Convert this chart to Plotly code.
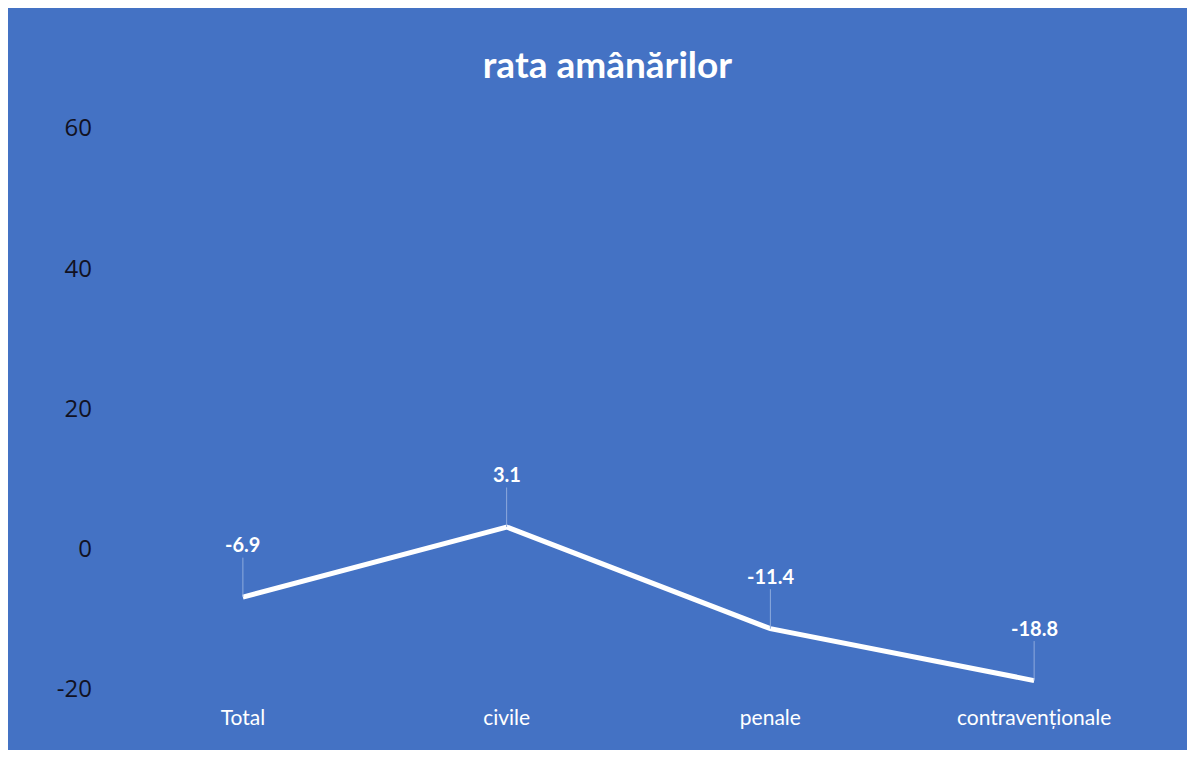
import plotly.graph_objects as go

categories = ["Total", "civile", "penale", "contravenționale"]
values = [-6.9, 3.1, -11.4, -18.8]
y_ticks = [-20, 0, 20, 40, 60]
y_tick_text = ["-20", "0", "20", "40", "60"]

BLUE = "#4472C4"
FONT = "Lato, Open Sans, sans-serif"

fig = go.Figure()
fig.add_trace(go.Scatter(
    x=categories, y=values,
    mode="lines",
    line=dict(color="white", width=5),
    hoverinfo="skip",
    showlegend=False))

# data labels with thin leader lines
for cat, val in zip(categories, values):
    fig.add_annotation(
        x=cat, y=val, text=f"<b>{val}</b>",
        showarrow=True, arrowhead=0, arrowwidth=1, arrowcolor="#8eaadc",
        ax=0, ay=-53, standoff=0,
        font=dict(family=FONT, size=20, color="white"))

fig.update_layout(
    width=1180, height=742,
    paper_bgcolor=BLUE, plot_bgcolor=BLUE,
    margin=dict(l=103, r=22, t=120, b=61),
    title=dict(text="<b>rata amânărilor</b>", x=0.508, xanchor="center",
               y=1 - 57 / 742, yanchor="middle",
               font=dict(family=FONT, size=37, color="white")),
)
fig.update_xaxes(range=[-0.5, 3.5], showgrid=False, zeroline=False, showline=False,
                 ticks="outside", ticklen=10, tickcolor=BLUE,
                 tickfont=dict(family=FONT, size=21, color="white"))
fig.update_yaxes(range=[-20, 60], tickvals=y_ticks, ticktext=y_tick_text,
                 showgrid=False, zeroline=False, showline=False, ticklabelstandoff=18,
                 tickfont=dict(family="Open Sans, sans-serif", size=24, color="#111122"))

fig.write_html("out.html")
